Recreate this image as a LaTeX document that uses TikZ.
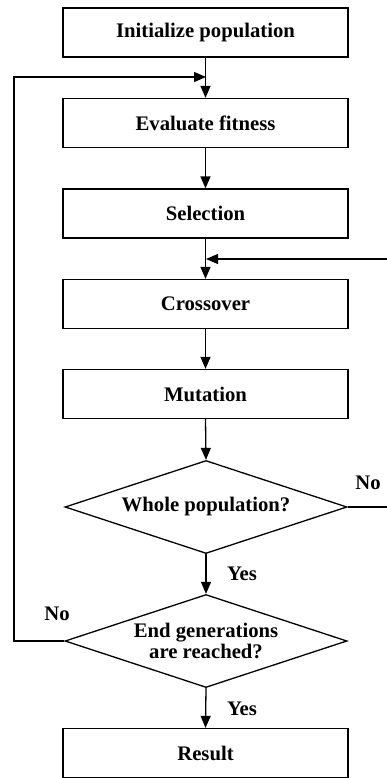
\documentclass[tikz,border=0pt]{standalone}
\usepackage{fontspec}
\setmainfont{Liberation Serif}
\usetikzlibrary{shapes.geometric,arrows.meta}
\begin{document}
\begin{tikzpicture}[x=1pt,y=-1pt,
  line width=1.3pt,
  font=\fontsize{20.7}{24}\selectfont\bfseries,
  stepbox/.style={draw, rectangle, minimum width=285pt, minimum height=49pt, inner sep=0pt},
  decide/.style={draw, diamond, aspect=3.03, minimum width=282pt, minimum height=93pt, inner sep=0pt, align=center},
  arr/.style={-{Triangle[length=12pt,width=10pt]}},
  lbl/.style={inner sep=0pt}]
\useasboundingbox (0,0) rectangle (386,778);
\node[stepbox] (init) at (205.5,32.5) {Initialize population};
\node[stepbox] (eval) at (205.5,123) {Evaluate fitness};
\node[stepbox] (sel) at (205.5,213.5) {Selection};
\node[stepbox] (cross) at (205.5,304) {Crossover};
\node[stepbox] (mut) at (205.5,394) {Mutation};
\node[decide] (whole) at (206,507) {Whole population?};
\node[decide] (endg) at (206,641) {End generations\\[-3pt]are reached?};
\node[stepbox] (res) at (205.5,753) {Result};
\coordinate (j1) at (206,77);
\coordinate (j2) at (206,259);
\coordinate (lft) at (14,641);
\coordinate (lftup) at (14,77);
\coordinate (rgtout) at (387,507);
\coordinate (rgtin) at (387,259);
\draw[arr] (init.south) -- (eval.north);
\draw[arr] (eval.south) -- (sel.north);
\draw[arr] (sel.south) -- (cross.north);
\draw[arr] (cross.south) -- (mut.north);
\draw[arr] (mut.south) -- (whole.north);
\draw[arr] (whole.south) -- (endg.north);
\draw[arr] (endg.south) -- (res.north);
\draw[arr] (endg.west) -- (lft) -- (lftup) -- (j1);
\draw (whole.east) -- (rgtout);
\draw[arr] (rgtin) -- (j2);
\node[lbl] (no1) at (368,483) {No};
\node[lbl] (yes1) at (242,574) {Yes};
\node[lbl] (no2) at (57,614) {No};
\node[lbl] (yes2) at (242,709) {Yes};
\end{tikzpicture}
\end{document}
